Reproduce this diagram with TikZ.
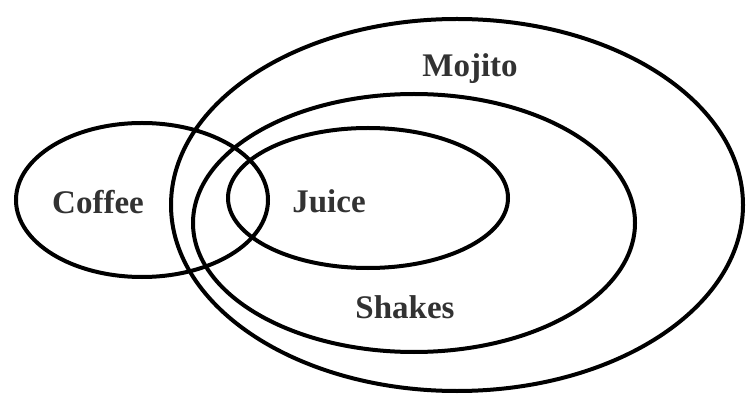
\documentclass[tikz,border=0pt]{standalone}
\usepackage{fontspec}
\setmainfont{Liberation Serif}
\usetikzlibrary{shapes.geometric}
\definecolor{textgray}{RGB}{50,50,50}
\tikzset{
  setring/.style={draw,ellipse,line width=4pt,inner sep=0pt},
  setlabel/.style={font=\fontsize{33}{36}\selectfont\bfseries,text=textgray,inner sep=0pt}
}
\begin{document}
\begin{tikzpicture}[x=1pt,y=-1pt]
\useasboundingbox (0,0) rectangle (749,395);
\node[setring,minimum width=572pt,minimum height=372pt] (mojito) at (457,205) {};
\node[setring,minimum width=442pt,minimum height=258pt] (shakes) at (414,223) {};
\node[setring,minimum width=280pt,minimum height=140pt] (juice) at (368,198) {};
\node[setring,minimum width=252pt,minimum height=154pt] (coffee) at (142,200) {};
\node[setlabel] (mojitolbl) at (470,69) {Mojito};
\node[setlabel] (shakeslbl) at (405,307) {Shakes};
\node[setlabel] (juicelbl) at (329,201) {Juice};
\node[setlabel] (coffeelbl) at (98,202) {Coffee};
\end{tikzpicture}
\end{document}
